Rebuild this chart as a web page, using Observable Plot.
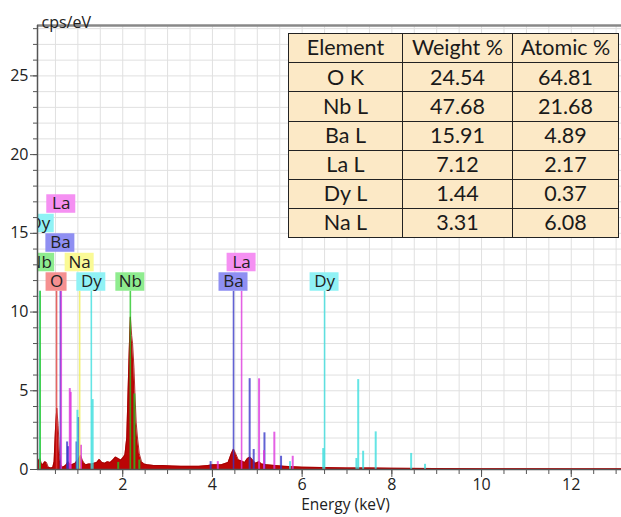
<!DOCTYPE html>
<html><head><meta charset="utf-8">
<script src="https://cdn.jsdelivr.net/npm/d3@7"></script>
<script src="https://cdn.jsdelivr.net/npm/@observablehq/plot@0.6"></script>
<style>
html,body{margin:0;padding:0;background:#fff;}
#wrap{position:relative;width:621px;height:517px;overflow:hidden;}
#tbl{position:absolute;left:288px;top:33px;border-collapse:collapse;table-layout:fixed;background:#fce9c6;font-family:Lato,"Noto Sans",sans-serif;font-size:21.5px;color:#1a1a1a;}
#tbl td{border:1.5px solid #222;text-align:center;padding:0;line-height:1;}
#tbl tr{height:29.2px;}
</style></head><body><div id="wrap"></div>
<script>
// ---- spectrum (energy keV, counts cps/eV) ----
const specE = [0.09,0.12,0.15,0.18,0.22,0.26,0.30,0.34,0.40,0.44,0.47,0.50,0.53,0.56,0.59,0.62,0.66,0.70,0.74,0.78,0.82,0.86,0.90,0.94,0.98,1.02,1.06,1.10,1.14,1.18,1.24,1.30,1.36,1.42,1.48,1.54,1.60,1.66,1.72,1.78,1.84,1.90,1.96,2.02,2.05,2.09,2.12,2.15,2.17,2.20,2.22,2.25,2.27,2.30,2.33,2.37,2.42,2.48,2.55,2.70,2.90,3.10,3.30,3.50,3.70,3.90,4.00,4.20,4.35,4.42,4.47,4.52,4.58,4.65,4.72,4.78,4.84,4.90,4.96,5.04,5.10,5.20,5.40,5.60,5.80,6.00,6.50,7.00,7.50,8.00,9.00,10.0,11.0,12.0,13.2];
const specC = [0.30,0.55,0.70,0.45,0.30,0.50,0.45,0.15,0.10,0.12,0.50,2.50,3.90,2.80,1.00,0.30,0.15,0.20,0.30,0.50,0.35,0.30,0.35,0.40,0.55,0.70,0.90,0.60,0.40,0.30,0.35,0.35,0.40,0.45,0.65,0.45,0.40,0.50,0.45,0.60,0.80,0.70,0.60,0.80,0.95,2.00,5.00,8.00,9.70,8.50,8.00,6.50,5.00,3.00,2.00,1.00,0.50,0.35,0.30,0.25,0.25,0.22,0.20,0.20,0.20,0.25,0.30,0.30,0.45,1.00,1.30,1.00,0.60,0.55,0.45,0.70,0.80,0.60,0.40,0.50,0.35,0.30,0.25,0.20,0.18,0.15,0.12,0.10,0.10,0.08,0.06,0.05,0.05,0.04,0.04];

// ---- labelled element marker lines ----
const markEl = ["Dy","Nb","O","Ba","La","Na","Dy","Nb","Ba","La","Dy"];
const markE  = [0.15,0.16,0.525,0.61,0.63,1.04,1.30,2.17,4.47,4.65,6.50];

// ---- minor (secondary) lines ----
const minorEl = ["Nb","Nb","Nb","Ba","Ba","Ba","Ba","Ba","Ba","Ba","Ba","Ba","La","La","La","La","La","La","La","La","Dy","Dy","Dy","Dy","Dy","Dy","Dy","Dy","Dy","Dy"];
const minorE  = [1.90,2.26,2.37,0.76,0.78,0.97,1.01,3.96,4.83,4.92,5.16,5.53,0.82,0.84,1.07,4.12,5.04,5.15,5.38,5.79,0.99,1.33,5.73,6.47,7.21,7.25,7.36,7.64,8.43,8.74];
const minorH  = [0.45,4.80,0.60,1.75,1.45,1.75,3.30,0.50,5.77,1.27,2.33,0.84,5.14,4.90,1.54,0.50,5.76,1.20,2.37,0.84,3.76,4.44,0.50,1.33,0.70,5.71,1.16,2.39,1.02,0.33];

// ---- table ----
const tblHeader = ["Element","Weight %","Atomic %"];
const tblElement = ["O K","Nb L","Ba L","La L","Dy L","Na L"];
const tblWeight = ["24.54","47.68","15.91","7.12","1.44","3.31"];
const tblAtomic = ["64.81","21.68","4.89","2.17","0.37","6.08"];

// ---- styling / layout ----
const lineColor = {Nb:"#22c522", O:"#e03a3a", Ba:"#3636c8", La:"#dc34dc", Dy:"#3adede", Na:"#eeee50"};
const boxColor  = {Nb:"#8fec8f", O:"#f59090", Ba:"#8f8ff2", La:"#f590f2", Dy:"#90f2f5", Na:"#fafa96"};
const labelRow = [3,1,0,2,4,1,0,0,0,1,0];

const W = 621, H = 517, mL = 37, mT = 25, mB = 48, mR = 0;
const xDom = [0.1, 13.12], yDom = [0, 28.2];
const kx = (W - mL - mR) / (xDom[1] - xDom[0]);
const ky = (H - mT - mB) / (yDom[1] - yDom[0]);
const lineTop = 11.32, rowPitch = 19.5 / ky, boxH = 18.5 / ky;

const spectrum = specE.map((e, i) => ({e, c: specC[i]}));
const marks = markEl.map((el, i) => ({el, e: markE[i], row: labelRow[i]}));
const minors = minorEl.map((el, i) => ({el, e: minorE[i], h: minorH[i]}));
const labels = marks.map(d => {
  const hw = (d.el.length === 1 ? 10.5 : 14.5) / kx;
  const y1 = lineTop + d.row * rowPitch;
  return {...d, x1: d.e - hw, x2: d.e + hw, y1, y2: y1 + boxH, yc: y1 + boxH / 2};
});

const chart = Plot.plot({
  width: W, height: H,
  marginLeft: mL, marginTop: mT, marginBottom: mB, marginRight: mR,
  style: {fontFamily: "'Open Sans', sans-serif", fontSize: "16px", color: "#222", background: "#fff"},
  x: {domain: xDom},
  y: {domain: yDom},
  marks: [
    Plot.gridX({ticks: d3.range(0.5, 13.5, 0.5), stroke: "#e0e0e0", strokeOpacity: 1}),
    Plot.gridY({ticks: d3.range(1, 29, 1), stroke: "#e0e0e0", strokeOpacity: 1}),
    Plot.areaY(spectrum, {x: "e", y: "c", fill: "#bb0505", curve: "linear", clip: true}),
    Plot.lineY(spectrum, {x: "e", y: "c", stroke: "#a00000", strokeWidth: 0.8, clip: true}),
    Plot.ruleX(minors, {x: "e", y1: 0, y2: "h", stroke: d => lineColor[d.el], strokeWidth: 2, strokeOpacity: 0.78, clip: true}),
    Plot.ruleX(marks, {x: "e", y1: 0, y2: lineTop, stroke: d => lineColor[d.el], strokeWidth: 1.6, strokeOpacity: 0.78, clip: true}),
    Plot.rect(labels, {x1: "x1", x2: "x2", y1: "y1", y2: "y2", fill: d => boxColor[d.el], clip: true}),
    Plot.text(labels, {x: "e", y: "yc", text: "el", fontSize: 17, fill: "#222", clip: true}),
    Plot.axisY({ticks: d3.range(0, 29, 1), tickSize: 4, tickFormat: () => "", stroke: "#555", label: null}),
    Plot.axisY({ticks: [0, 5, 10, 15, 20, 25], tickSize: 7, tickPadding: 2, fontSize: 16, stroke: "#555", fill: "#222", label: null}),
    Plot.axisX({ticks: d3.range(0.5, 13.5, 0.5), tickSize: 5, tickFormat: () => "", stroke: "#555", label: null}),
    Plot.axisX({ticks: d3.range(2, 14, 2), tickSize: 8, tickPadding: 1, fontSize: 16, stroke: "#555", fill: "#222", label: null}),
    Plot.ruleY([yDom[1]], {stroke: "#888", strokeWidth: 2.5}),
    Plot.ruleY([0], {stroke: "#555", strokeWidth: 1.5}),
    Plot.ruleX([xDom[0]], {stroke: "#555", strokeWidth: 1.5}),
    Plot.text(["cps/eV"], {frameAnchor: "top-left", textAnchor: "start", dx: 4, dy: -9, fontSize: 16, fill: "#222"}),
    Plot.text(["Energy (keV)"], {frameAnchor: "bottom", dx: 16, dy: 40, fontSize: 15.5, fill: "#222"})
  ]
});
const wrap = document.getElementById("wrap");
wrap.appendChild(chart);

// table overlay
const colW = [114, 110, 106];
const tbl = document.createElement("table");
tbl.id = "tbl";
const cg = document.createElement("colgroup");
colW.forEach(w => { const c = document.createElement("col"); c.style.width = w + "px"; cg.appendChild(c); });
tbl.appendChild(cg);
const rows = [tblHeader].concat(tblElement.map((e, i) => [e, tblWeight[i], tblAtomic[i]]));
rows.forEach(r => {
  const tr = document.createElement("tr");
  r.forEach(v => { const td = document.createElement("td"); td.textContent = v; tr.appendChild(td); });
  tbl.appendChild(tr);
});
wrap.appendChild(tbl);
</script></body></html>
